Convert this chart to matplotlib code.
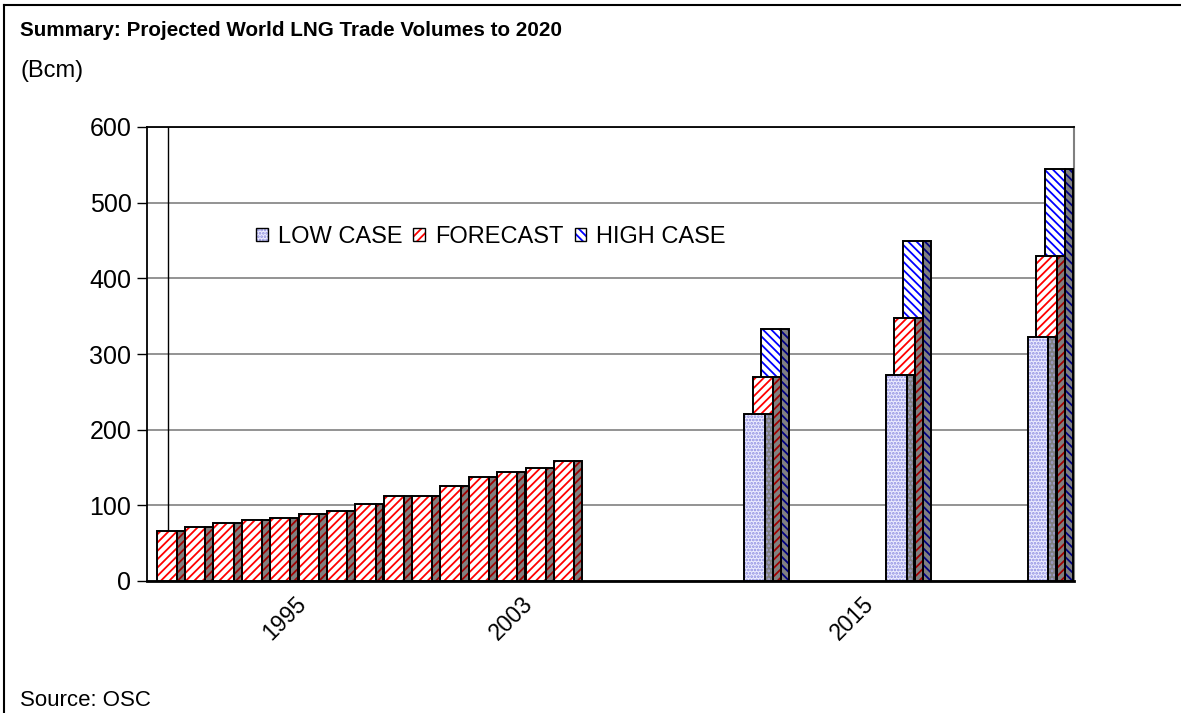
import matplotlib
matplotlib.use('Agg')
import matplotlib.pyplot as plt
from matplotlib.lines import Line2D
from matplotlib.patches import Patch
from matplotlib.legend_handler import HandlerTuple

plt.rcParams['font.family'] = ['Liberation Sans', 'DejaVu Sans']
plt.rcParams['hatch.linewidth'] = 1.3

# historical trade (forecast series only)
hist_years = [1990, 1991, 1992, 1993, 1994, 1995, 1996, 1997, 1998, 1999,
              2000, 2001, 2002, 2003, 2004]
hist_forecast = [66, 72, 76, 80, 83, 89, 93, 102, 112, 112, 125, 137, 144, 150, 159]

# projections
proj_years = [2010, 2015, 2020]
proj_low = [221, 272, 323]
proj_forecast = [269, 348, 430]
proj_high = [333, 449, 545]

series_labels = ['LOW CASE', 'FORECAST', 'HIGH CASE']
tick_years = [1995, 2003, 2015]

# category slot on the x axis (projection columns sit one slot right in the source chart)
def slot(year, shift=0):
    return year - 1990 + shift

hist_x = [slot(y) for y in hist_years]
proj_x = [slot(y, 1) for y in proj_years]

# column geometry, in category units
W = 0.715   # front face
D = 0.278   # depth face
S = 0.289   # shift between series

styles = {
    'low':  dict(face='#ececff', hatch='.....', hcol='#8c8ce0',
                 sface='#808080', shatch='....', shcol='#a0a0d0'),
    'fc':   dict(face='white', hatch='////', hcol='#ff0000',
                 sface='#808080', shatch='////', shcol='#a00000'),
    'high': dict(face='white', hatch='\\\\\\\\', hcol='#0000ff',
                 sface='#808080', shatch='\\\\\\\\', shcol='#000080'),
}

fig = plt.figure(figsize=(11.81, 7.13), dpi=100)
ax = fig.add_axes([147 / 1181, 1 - 581 / 713, 927 / 1181, 454 / 713])


def columns(xs, hs, shift, st, z):
    front = [x - W / 2 + shift for x in xs]
    side = [x + W / 2 + shift for x in xs]
    ax.bar(front, hs, W, align='edge', color=st['face'], hatch=st['hatch'],
           edgecolor=st['hcol'], linewidth=0, zorder=z)
    ax.bar(front, hs, W, align='edge', fill=False, edgecolor='black',
           linewidth=1.4, zorder=z + 0.01)
    ax.bar(side, hs, D, align='edge', color=st['sface'], hatch=st['shatch'],
           edgecolor=st['shcol'], linewidth=0, zorder=z)
    ax.bar(side, hs, D, align='edge', fill=False, edgecolor='black',
           linewidth=1.4, zorder=z + 0.01)


# back to front: high, forecast, low
columns(proj_x, proj_high, S, styles['high'], 3)
columns(hist_x + proj_x, hist_forecast + proj_forecast, 0, styles['fc'], 4)
columns(proj_x, proj_low, -S, styles['low'], 5)

ax.axvline(0.05, color='black', linewidth=1.0, zorder=1)

ax.set_xlim(-0.698, 31.97)
ax.set_ylim(0, 600)
ax.set_yticks(range(0, 601, 100))
ax.yaxis.grid(True, color='#808080', linewidth=1.2)
ax.set_axisbelow(True)

# labels hang half a slot left of the column, as in the source
ax.set_xticks([slot(y) - 0.5 for y in tick_years])
ax.set_xticklabels([str(y) for y in tick_years], rotation=45, ha='right', va='top',
                   rotation_mode='anchor')
ax.tick_params(axis='x', length=0, pad=8, labelsize=16.5)
ax.tick_params(axis='y', length=7.2, width=1.0, pad=4, labelsize=18, direction='out')

ax.spines['top'].set_color('black')
ax.spines['top'].set_linewidth(1.3)
ax.spines['right'].set_color('#808080')
ax.spines['right'].set_linewidth(1.5)
ax.spines['left'].set_linewidth(1.3)
ax.spines['bottom'].set_linewidth(2.0)

handles = []
for key in ['low', 'fc', 'high']:
    st = styles[key]
    handles.append((Patch(facecolor=st['face'], hatch=st['hatch'], edgecolor=st['hcol'], linewidth=0),
                    Patch(fill=False, edgecolor='black', linewidth=1.0)))
ax.legend(handles, series_labels, handler_map={tuple: HandlerTuple(ndivide=1, pad=0)},
          loc='center left', bbox_to_anchor=(256 / 1181, 1 - 237 / 713),
          bbox_transform=fig.transFigure, ncol=3, frameon=False, fontsize=17,
          borderpad=0, borderaxespad=0, handlelength=0.5, handleheight=0.5,
          handletextpad=0.42, columnspacing=0.47)

fig.text(20 / 1181, 1 - 36 / 713, 'Summary: Projected World LNG Trade Volumes to 2020',
         fontsize=14.9, fontweight='bold', va='baseline')
fig.text(20 / 1181, 1 - 77 / 713, '(Bcm)', fontsize=17, va='baseline')
fig.text(20 / 1181, 1 - 706 / 713, 'Source: OSC', fontsize=16, va='baseline')

# outer frame (top and left edges visible)
fig.add_artist(Line2D([4 / 1181, 1], [1 - 5 / 713, 1 - 5 / 713], transform=fig.transFigure,
                      color='black', linewidth=1.5))
fig.add_artist(Line2D([4 / 1181, 4 / 1181], [0, 1 - 5 / 713], transform=fig.transFigure,
                      color='black', linewidth=1.5))

fig.savefig('out.png', dpi=100)
